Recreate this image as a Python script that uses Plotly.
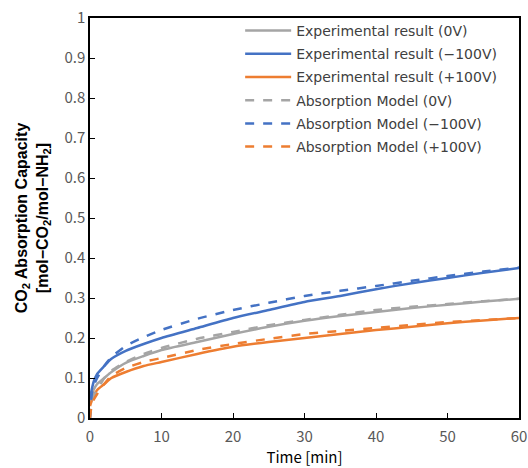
import plotly.graph_objects as go

# Time [min]
t_exp = [0, 0.5, 1, 2, 3, 5, 7.5, 10, 15, 20, 25, 30, 35, 40, 45, 50, 55, 60]
exp_0v = [0.04, 0.07, 0.085, 0.10, 0.115, 0.138, 0.155, 0.17, 0.19, 0.21, 0.228, 0.243, 0.255, 0.265, 0.275, 0.283, 0.291, 0.298]
exp_m100v = [0.05, 0.09, 0.11, 0.13, 0.148, 0.168, 0.185, 0.20, 0.225, 0.25, 0.27, 0.29, 0.305, 0.322, 0.337, 0.35, 0.363, 0.375]
exp_p100v = [0.03, 0.055, 0.07, 0.085, 0.10, 0.115, 0.13, 0.14, 0.16, 0.178, 0.19, 0.20, 0.21, 0.22, 0.228, 0.237, 0.244, 0.25]

t_mod = [0, 0.25, 0.5, 1, 2, 3, 5, 7.5, 10, 15, 20, 25, 30, 35, 40, 45, 50, 55, 60]
mod_0v = [0.0, 0.04, 0.055, 0.07, 0.10, 0.118, 0.14, 0.16, 0.175, 0.198, 0.215, 0.232, 0.245, 0.258, 0.27, 0.278, 0.285, 0.292, 0.298]
mod_m100v = [0.0, 0.06, 0.08, 0.10, 0.13, 0.152, 0.18, 0.202, 0.22, 0.248, 0.27, 0.288, 0.305, 0.318, 0.33, 0.343, 0.355, 0.366, 0.376]
mod_p100v = [0.0, 0.035, 0.045, 0.06, 0.085, 0.105, 0.125, 0.14, 0.15, 0.17, 0.185, 0.198, 0.21, 0.218, 0.225, 0.233, 0.24, 0.245, 0.25]

GREY = "#A5A5A5"
BLUE = "#4472C4"
ORANGE = "#ED7D31"

series = [
    ("Experimental result (0V)", t_exp, exp_0v, GREY, "solid"),
    ("Experimental result (\u2212100V)", t_exp, exp_m100v, BLUE, "solid"),
    ("Experimental result (+100V)", t_exp, exp_p100v, ORANGE, "solid"),
    ("Absorption Model (0V)", t_mod, mod_0v, GREY, "dash"),
    ("Absorption Model (\u2212100V)", t_mod, mod_m100v, BLUE, "dash"),
    ("Absorption Model (+100V)", t_mod, mod_p100v, ORANGE, "dash"),
]

fig = go.Figure()
for i, (name, x, y, c, d) in enumerate(series):
    fig.add_trace(go.Scatter(x=x, y=y, name=name, mode="lines", legendgroup=f"g{i}",
                             line=dict(color=c, width=2.5, dash=d, shape="spline", smoothing=0.6)))

tickfont = dict(family="Noto Sans CJK JP, Liberation Sans, sans-serif", size=15, color="#595959")

fig.update_layout(
    width=528, height=468,
    margin=dict(l=90, r=9, t=18, b=50),
    paper_bgcolor="white", plot_bgcolor="white",
    font=dict(family="DejaVu Sans, sans-serif", size=13, color="#404040"),
    legend=dict(x=0.35, y=1.0075, xanchor="left", yanchor="top",
                borderwidth=0, bgcolor="rgba(255,255,255,0)",
                font=dict(family="DejaVu Sans, sans-serif", size=14, color="#404040"),
                itemwidth=46, tracegroupgap=2),
    xaxis=dict(range=[0, 60], dtick=10, showgrid=False, zeroline=False,
               showline=True, linecolor="#000000", linewidth=1.5, mirror=True,
               ticks="inside", ticklen=5, tickcolor="#000000", tickfont=tickfont,
               automargin=False, ticklabelstandoff=4, ticklabeloverflow="allow",
               title=dict(text="Time [min]",
                          font=dict(family="Noto Sans CJK JP, sans-serif", size=15, color="#000000"),
                          standoff=0)),
    yaxis=dict(range=[0, 1], dtick=0.1, showgrid=False, zeroline=False,
               showline=True, linecolor="#000000", linewidth=1.5, mirror=True,
               ticks="inside", ticklen=5, tickcolor="#000000", tickfont=tickfont,
               tickformat="~g", automargin=False, ticklabeloverflow="allow",
               title=dict(text="<b>CO<sub>2</sub> Absorption Capacity</b><br><b>[mol\u2212CO<sub>2</sub>/mol\u2212NH<sub>2</sub>]</b>",
                          font=dict(family="Liberation Sans, Arial, sans-serif", size=16, color="#000000"),
                          standoff=12)),
)

fig.write_html("out.html", config={"displayModeBar": False},
               post_script="document.body.style.margin='0';document.body.style.overflow='hidden';")
